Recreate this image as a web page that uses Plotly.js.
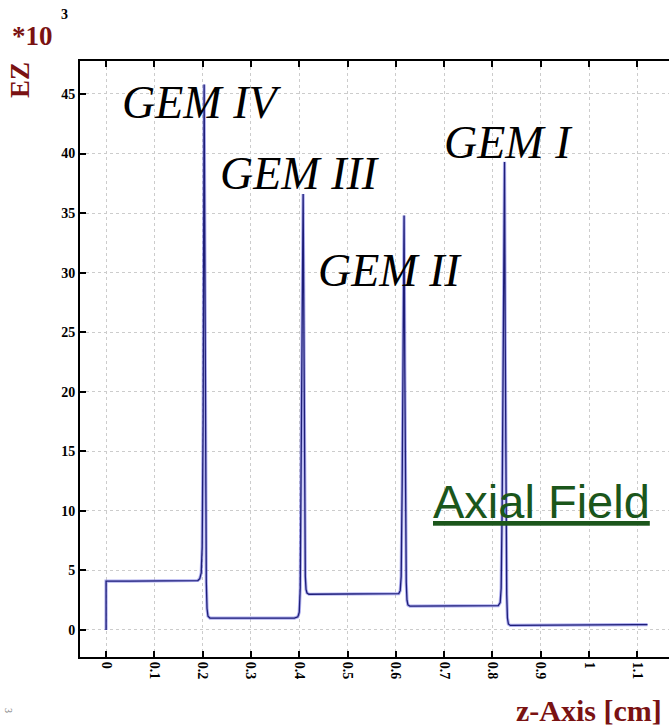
<!DOCTYPE html>
<html>
<head>
<meta charset="utf-8">
<script src="https://cdn.plot.ly/plotly-3.0.1.min.js"></script>
<style>
  html, body { margin: 0; padding: 0; background: #fff; overflow: hidden; }
  #chart { width: 700px; height: 726px; }
</style>
</head>
<body>
<div id="chart"></div>
<script>
// Axial field Ez (in units of 10^3) along the z-axis through a stack of four GEM foils
const zPos = [
  0, 0, 0.05, 0.10, 0.15, 0.18, 0.19, 0.194, 0.197, 0.199, 0.201, 0.203, 0.2045, 0.206, 0.2075, 0.209, 0.211, 0.215,
  0.25, 0.30, 0.35, 0.39, 0.397, 0.400, 0.402, 0.404, 0.406, 0.408, 0.4095, 0.411, 0.4125, 0.414, 0.416, 0.420,
  0.45, 0.50, 0.55, 0.60, 0.606, 0.609, 0.611, 0.613, 0.615, 0.617, 0.6185, 0.620, 0.6215, 0.623, 0.625, 0.629,
  0.65, 0.70, 0.75, 0.80, 0.812, 0.816, 0.818, 0.820, 0.822, 0.825, 0.8265, 0.828, 0.8295, 0.831, 0.833, 0.837,
  0.90, 0.95, 1.00, 1.05, 1.10, 1.121
];
const ezField = [
  0, 4.1, 4.1, 4.1, 4.1, 4.1, 4.15, 4.3, 4.8, 7, 18, 45.8, 30, 12, 4, 1.8, 1.15, 1.0,
  1.0, 1.0, 1.0, 1.0, 1.1, 1.5, 3.5, 12, 26, 36.6, 24, 10, 4.5, 3.4, 3.1, 3.0,
  3.0, 3.0, 3.0, 3.0, 3.05, 3.3, 4.5, 12, 26, 34.8, 22, 9, 4, 2.5, 2.1, 2.0,
  2.0, 2.0, 2.0, 2.0, 2.05, 2.3, 3.5, 10, 22, 39.3, 24, 9, 3, 1.0, 0.5, 0.38,
  0.38, 0.39, 0.40, 0.42, 0.44, 0.45
];

// Foil labels and axis ticks
const foilNames = ['GEM IV', 'GEM III', 'GEM II', 'GEM I'];
const xTickVals = [0, 0.1, 0.2, 0.3, 0.4, 0.5, 0.6, 0.7, 0.8, 0.9, 1, 1.1];
const xTickText = ['0', '0.1', '0.2', '0.3', '0.4', '0.5', '0.6', '0.7', '0.8', '0.9', '1', '1.1'];
const yTickVals = [0, 5, 10, 15, 20, 25, 30, 35, 40, 45];

const labelPos = [
  {x: 0.029, y: 44.3},
  {x: 0.232, y: 38.3},
  {x: 0.435, y: 30.2},
  {x: 0.696, y: 40.9}
];

const axisRed = '#7a1212';
const serif = 'Liberation Serif, Times New Roman, serif';

const traces = [
  {
    x: zPos, y: ezField, type: 'scatter', mode: 'lines',
    line: {color: 'rgba(110,110,225,0.55)', width: 3.2},
    hoverinfo: 'skip', showlegend: false
  },
  {
    x: zPos, y: ezField, type: 'scatter', mode: 'lines',
    line: {color: '#1e1e78', width: 1.3},
    showlegend: false
  }
];

const annotations = foilNames.map((name, i) => ({
  x: labelPos[i].x, y: labelPos[i].y, xref: 'x', yref: 'y',
  text: name, showarrow: false, xanchor: 'left', yanchor: 'middle',
  font: {family: serif, size: 46, color: '#000', style: 'italic'}
}));

annotations.push({
  x: 0.672, y: 10.8, xref: 'x', yref: 'y',
  text: '<u>Axial Field</u>', showarrow: false, xanchor: 'left', yanchor: 'middle',
  font: {family: 'Liberation Sans, Arial, sans-serif', size: 47, color: '#1b561b'}
});

// Axis captions
annotations.push({
  x: -0.097, y: 0.968, xref: 'paper', yref: 'paper',
  text: 'EZ', showarrow: false, textangle: -90, xanchor: 'center', yanchor: 'middle',
  font: {family: serif, size: 27, color: axisRed, weight: 'bold'}
});
annotations.push({
  x: -0.113, y: 1.042, xref: 'paper', yref: 'paper',
  text: '*10', showarrow: false, xanchor: 'left', yanchor: 'middle',
  font: {family: serif, size: 27, color: axisRed, weight: 'bold'}
});
annotations.push({
  x: -0.034, y: 1.078, xref: 'paper', yref: 'paper',
  text: '3', showarrow: false, xanchor: 'left', yanchor: 'middle',
  font: {family: serif, size: 14, color: '#000', weight: 'bold'}
});
annotations.push({
  x: 0.70, y: -0.09, xref: 'paper', yref: 'paper',
  text: 'z-Axis [cm]', showarrow: false, xanchor: 'left', yanchor: 'middle',
  font: {family: serif, size: 30, color: axisRed, weight: 'bold'}
});
annotations.push({
  x: -0.115, y: -0.09, xref: 'paper', yref: 'paper',
  text: '3', showarrow: false, textangle: 90, xanchor: 'center', yanchor: 'middle',
  font: {family: serif, size: 10, color: '#777'}
});

const layout = {
  width: 700, height: 726,
  margin: {l: 80, r: 0, t: 61, b: 69},
  paper_bgcolor: '#fff', plot_bgcolor: '#fff',
  showlegend: false,
  xaxis: {
    range: [-0.054, 1.2297],
    tickmode: 'array', tickvals: xTickVals, ticktext: xTickText,
    tickangle: 90,
    ticks: 'inside', ticklen: 6, tickwidth: 2, tickcolor: '#000',
    showline: true, linecolor: '#000', linewidth: 2, mirror: 'ticks',
    showgrid: true, gridcolor: '#cccccc', griddash: 'dot', gridwidth: 1,
    zeroline: false,
    tickfont: {family: serif, size: 14, color: '#000', weight: 'bold'}
  },
  yaxis: {
    range: [-2.27, 47.77],
    tickmode: 'array', tickvals: yTickVals,
    ticks: 'inside', ticklen: 6, tickwidth: 2, tickcolor: '#000',
    showline: true, linecolor: '#000', linewidth: 2,
    showgrid: true, gridcolor: '#cccccc', griddash: 'dot', gridwidth: 1,
    zeroline: false,
    tickfont: {family: serif, size: 14, color: '#000', weight: 'bold'}
  },
  annotations: annotations
};

Plotly.newPlot('chart', traces, layout, {displayModeBar: false, staticPlot: true});
</script>
</body>
</html>
